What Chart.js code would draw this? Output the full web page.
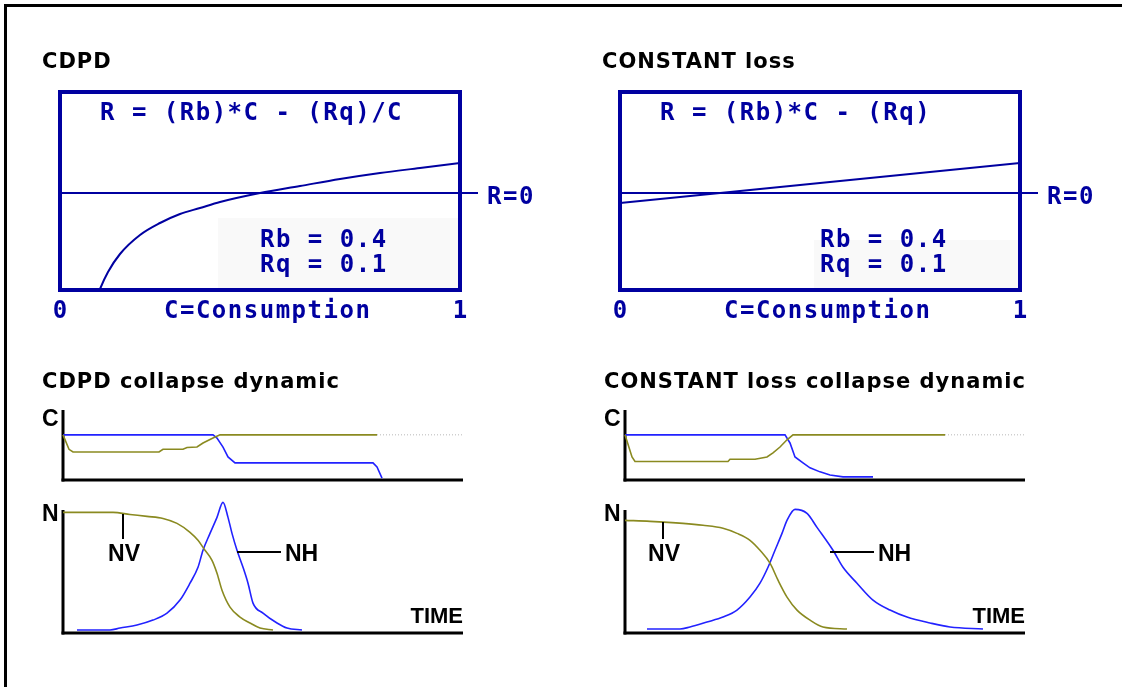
<!DOCTYPE html>
<html><head><meta charset="utf-8">
<script src="https://cdn.jsdelivr.net/npm/chart.js@4.4.1/dist/chart.umd.min.js"></script>
<style>
html,body{margin:0;padding:0;background:#fff;}
#wrap{position:relative;width:1122px;height:687px;overflow:hidden;background:#fff;}
#wrap canvas{position:absolute;left:0;top:0;}
</style></head><body>
<div id="wrap">
<canvas id="tl" width="1122" height="687"></canvas>
<canvas id="tr" width="1122" height="687"></canvas>
<canvas id="blc" width="1122" height="687"></canvas>
<canvas id="bln" width="1122" height="687"></canvas>
<canvas id="brc" width="1122" height="687"></canvas>
<canvas id="brn" width="1122" height="687"></canvas>
</div>
<script>
// ---------- text ----------
const titles = ['CDPD', 'CONSTANT loss', 'CDPD collapse dynamic', 'CONSTANT loss collapse dynamic'];
const formulas = ['R = (Rb)*C - (Rq)/C', 'R = (Rb)*C - (Rq)'];
const paramLabels = ['Rb = 0.4', 'Rq = 0.1'];
const consumptionTicks = ['0', 'C=Consumption', '1'];
const zeroLabel = 'R=0';
const panelLabels = ['C', 'N', 'TIME', 'NV', 'NH'];

// ---------- top panels: R versus consumption C ----------
const cdpdC = [0.09, 0.10, 0.12, 0.15, 0.20, 0.25, 0.30, 0.35, 0.40, 0.50, 0.60, 0.70, 0.80, 0.90, 1.00];
const cdpdR = [-1.07, -0.96, -0.79, -0.61, -0.42, -0.30, -0.21, -0.15, -0.09, 0.00, 0.07, 0.14, 0.20, 0.25, 0.30];
const constC = [0, 0.5, 1];
const constR = [-0.10, 0.10, 0.30];

// ---------- bottom-left (CDPD) collapse dynamic ----------
const cdpdBlueCT = [0, 37.5, 38.5, 40, 41.25, 43, 77.5, 78.5, 79.75];
const cdpdBlueC  = [1, 1, 0.93, 0.73, 0.51, 0.38, 0.38, 0.29, 0.04];
const cdpdOliveCT = [0, 1.5, 2.5, 24, 25, 30, 31, 33.5, 35, 37.5, 39.25, 78.5];
const cdpdOliveC  = [1, 0.68, 0.62, 0.62, 0.68, 0.68, 0.72, 0.73, 0.82, 0.93, 1, 1];
const cdpdDotT = [78.5, 100];
const cdpdDotC = [1, 1];
const cdpdNVT = [0, 12.5, 16.75, 21, 25, 28.5, 31.75, 33.75, 35.5, 37.25, 38.5, 39.75, 41.75, 44.25, 46.75, 49.25, 52.5];
const cdpdNV  = [1.0, 1.0, 0.983, 0.967, 0.95, 0.909, 0.835, 0.769, 0.686, 0.603, 0.496, 0.355, 0.215, 0.132, 0.083, 0.041, 0.025];
const cdpdNHT = [3.5, 11.75, 14.25, 18.5, 22.5, 26, 29.25, 31.75, 33.75, 35, 36.75, 38.5, 40, 41.25, 42.25, 43.5, 45, 46.25, 47.5, 50, 53.5, 56, 59.75];
const cdpdNH  = [0.025, 0.025, 0.041, 0.066, 0.107, 0.165, 0.273, 0.413, 0.545, 0.686, 0.826, 0.959, 1.083, 0.959, 0.826, 0.686, 0.545, 0.413, 0.248, 0.165, 0.083, 0.041, 0.025];

// ---------- bottom-right (CONSTANT loss) collapse dynamic ----------
const constBlueCT = [0, 40, 41.25, 42.5, 44.5, 46.25, 48.75, 51.25, 54.5, 62];
const constBlueC  = [1, 1, 0.82, 0.51, 0.38, 0.27, 0.18, 0.11, 0.07, 0.07];
const constOliveCT = [0, 1.75, 2.5, 25.75, 26.25, 32.5, 35.5, 37, 38.75, 40.5, 42, 80];
const constOliveC  = [1, 0.51, 0.41, 0.41, 0.46, 0.46, 0.51, 0.60, 0.73, 0.89, 1, 1];
const constDotT = [80, 100];
const constDotC = [1, 1];
const constNVT = [0, 6.25, 14.5, 19.5, 24.5, 28, 31.25, 33.75, 36.25, 38.25, 40.5, 43, 46.25, 49.5, 55.5];
const constNV  = [0.934, 0.926, 0.909, 0.893, 0.868, 0.826, 0.769, 0.686, 0.579, 0.438, 0.298, 0.19, 0.107, 0.05, 0.033];
const constNHT = [5.5, 13.75, 16.25, 20.5, 24.5, 28, 31.25, 33.75, 35.75, 37.5, 39.25, 40.5, 42.5, 45.5, 48, 52, 54.5, 58, 62, 66.25, 70.5, 76.25, 81.25, 89.5];
const constNH  = [0.033, 0.033, 0.05, 0.091, 0.132, 0.19, 0.298, 0.413, 0.545, 0.686, 0.826, 0.934, 1.025, 0.992, 0.876, 0.686, 0.545, 0.413, 0.273, 0.19, 0.132, 0.083, 0.05, 0.033];

// ---------- styling ----------
const W = 1122, H = 687;
const DARKBLUE = '#0000a0';
const BLUE = '#2222ff';
const OLIVE = '#8a8a20';
const DOT = '#b8b8b8';
const TITLE_FONT = 'bold 21px "DejaVu Sans"';
const MONO_FONT = 'bold 24px "DejaVu Sans Mono"';
const LABEL_FONT = 'bold 23px "Liberation Sans"';
const TIME_FONT = 'bold 22px "Liberation Sans"';

const pts = (xs, ys) => xs.map((x, i) => ({x: x, y: ys[i]}));

function txt(ctx, s, x, y, font, color, align, ls) {
  ctx.save();
  ctx.font = font; ctx.fillStyle = color;
  ctx.textAlign = align || 'left'; ctx.textBaseline = 'alphabetic';
  try { ctx.letterSpacing = ls || '0px'; } catch (e) {}
  ctx.fillText(s, x, y);
  ctx.restore();
}
function line(ctx, x1, y1, x2, y2, w, color) {
  ctx.save(); ctx.strokeStyle = color; ctx.lineWidth = w; ctx.lineCap = 'butt';
  ctx.beginPath(); ctx.moveTo(x1, y1); ctx.lineTo(x2, y2); ctx.stroke(); ctx.restore();
}

function makeChart(id, area, xr, yr, datasets, before, after) {
  return new Chart(document.getElementById(id), {
    type: 'line',
    data: { datasets: datasets },
    options: {
      responsive: false, animation: false, events: [],
      layout: { padding: { left: area[0], top: area[1], right: W - area[2], bottom: H - area[3] } },
      scales: {
        x: { type: 'linear', min: xr[0], max: xr[1], display: false },
        y: { type: 'linear', min: yr[0], max: yr[1], display: false }
      },
      plugins: { legend: { display: false }, tooltip: { enabled: false }, title: { display: false } },
      elements: { point: { radius: 0 } }
    },
    plugins: [{
      id: 'deco_' + id,
      beforeDatasetsDraw(c) { if (before) before(c); },
      afterDatasetsDraw(c) { if (after) after(c); }
    }]
  });
}

// ---------- top panels ----------
function topDecoBefore(patch) {
  return function (c) {
    const ctx = c.ctx, a = c.chartArea;
    ctx.save(); ctx.fillStyle = '#f9f9f9';
    ctx.fillRect(a.left + patch[0], a.top + patch[1], patch[2], patch[3]);
    ctx.restore();
  };
}
function topDecoAfter(title, formula, frame) {
  return function (c) {
    const ctx = c.ctx, a = c.chartArea;
    const y0 = c.scales.y.getPixelForValue(0);
    if (frame) {
      ctx.save(); ctx.fillStyle = '#000';
      ctx.fillRect(4, 4, W - 4, 3);
      ctx.fillRect(4, 4, 3, H - 4);
      ctx.restore();
    }
    // R=0 line
    line(ctx, a.left, y0, a.right + 18, y0, 2, DARKBLUE);
    // box
    ctx.save(); ctx.strokeStyle = DARKBLUE; ctx.lineWidth = 4;
    ctx.strokeRect(a.left, a.top, a.right - a.left, a.bottom - a.top); ctx.restore();
    txt(ctx, title, a.left - 18, 68, TITLE_FONT, '#000', 'left', '1px');
    txt(ctx, formula, a.left + 40, 120, MONO_FONT, DARKBLUE, 'left', '1.5px');
    txt(ctx, paramLabels[0], a.left + 200, 247, MONO_FONT, DARKBLUE, 'left', '1.5px');
    txt(ctx, paramLabels[1], a.left + 200, 272, MONO_FONT, DARKBLUE, 'left', '1.5px');
    txt(ctx, zeroLabel, a.right + 27, y0 + 11, MONO_FONT, DARKBLUE, 'left', '1.5px');
    txt(ctx, consumptionTicks[0], a.left, 318, MONO_FONT, DARKBLUE, 'center', '0px');
    txt(ctx, consumptionTicks[1], a.left + 104, 318, MONO_FONT, DARKBLUE, 'left', '1.5px');
    txt(ctx, consumptionTicks[2], a.right, 318, MONO_FONT, DARKBLUE, 'center', '0px');
  };
}

makeChart('tl', [60, 92, 460, 290], [0, 1], [-0.97, 1.01], [
  { data: pts(cdpdC, cdpdR), borderColor: DARKBLUE, borderWidth: 2, cubicInterpolationMode: 'monotone', fill: false }
], topDecoBefore([158, 126, 240, 70]), topDecoAfter(titles[0], formulas[0], true));

makeChart('tr', [620, 92, 1020, 290], [0, 1], [-0.97, 1.01], [
  { data: pts(constC, constR), borderColor: DARKBLUE, borderWidth: 2, tension: 0, fill: false }
], topDecoBefore([194, 148, 204, 48]), topDecoAfter(titles[1], formulas[1], false));

// ---------- bottom panels ----------
function axesBefore(c) {
  const ctx = c.ctx, a = c.chartArea;
  line(ctx, a.left, a.top, a.left, a.bottom + 1.5, 3, '#000');
  line(ctx, a.left - 1.5, a.bottom, a.right, a.bottom, 3, '#000');
}
function cPanelAfter(title) {
  return function (c) {
    const ctx = c.ctx, a = c.chartArea;
    txt(ctx, title, a.left - 21, 388, TITLE_FONT, '#000', 'left', '1px');
    txt(ctx, panelLabels[0], a.left - 21, 426, LABEL_FONT, '#000', 'left');
  };
}
function nPanelAfter(nvOff, nhOff) {
  return function (c) {
    const ctx = c.ctx, a = c.chartArea;
    txt(ctx, panelLabels[1], a.left - 21, 521, LABEL_FONT, '#000', 'left');
    txt(ctx, panelLabels[2], a.right, 623, TIME_FONT, '#000', 'right');
    // NV pointer
    line(ctx, a.left + nvOff[0], nvOff[1], a.left + nvOff[0], 539, 2, '#000');
    txt(ctx, panelLabels[3], a.left + nvOff[0] + 1, 561, LABEL_FONT, '#000', 'center');
    // NH pointer
    line(ctx, a.left + nhOff, 552, a.left + nhOff + 44, 552, 2, '#000');
    txt(ctx, panelLabels[4], a.left + nhOff + 48, 561, LABEL_FONT, '#000', 'left');
  };
}

makeChart('blc', [63, 410, 463, 480], [0, 100], [0, 1.55], [
  { data: pts(cdpdDotT, cdpdDotC), borderColor: DOT, borderWidth: 1, borderDash: [1, 2], tension: 0, clip: false },
  { data: pts(cdpdOliveCT, cdpdOliveC), borderColor: OLIVE, borderWidth: 1.6, tension: 0, clip: false },
  { data: pts(cdpdBlueCT, cdpdBlueC), borderColor: BLUE, borderWidth: 1.6, tension: 0, clip: false }
], axesBefore, cPanelAfter(titles[2]));

makeChart('bln', [63, 510, 463, 633], [0, 100], [0, 1.02], [
  { data: pts(cdpdNVT, cdpdNV), borderColor: OLIVE, borderWidth: 1.6, cubicInterpolationMode: 'monotone', clip: false },
  { data: pts(cdpdNHT, cdpdNH), borderColor: BLUE, borderWidth: 1.6, cubicInterpolationMode: 'monotone', clip: false }
], axesBefore, nPanelAfter([60, 514], 174));

makeChart('brc', [625, 410, 1025, 480], [0, 100], [0, 1.55], [
  { data: pts(constDotT, constDotC), borderColor: DOT, borderWidth: 1, borderDash: [1, 2], tension: 0, clip: false },
  { data: pts(constOliveCT, constOliveC), borderColor: OLIVE, borderWidth: 1.6, tension: 0, clip: false },
  { data: pts(constBlueCT, constBlueC), borderColor: BLUE, borderWidth: 1.6, tension: 0, clip: false }
], axesBefore, cPanelAfter(titles[3]));

makeChart('brn', [625, 510, 1025, 633], [0, 100], [0, 1.02], [
  { data: pts(constNVT, constNV), borderColor: OLIVE, borderWidth: 1.6, cubicInterpolationMode: 'monotone', clip: false },
  { data: pts(constNHT, constNH), borderColor: BLUE, borderWidth: 1.6, cubicInterpolationMode: 'monotone', clip: false }
], axesBefore, nPanelAfter([38, 522], 205));
</script>
</body></html>
